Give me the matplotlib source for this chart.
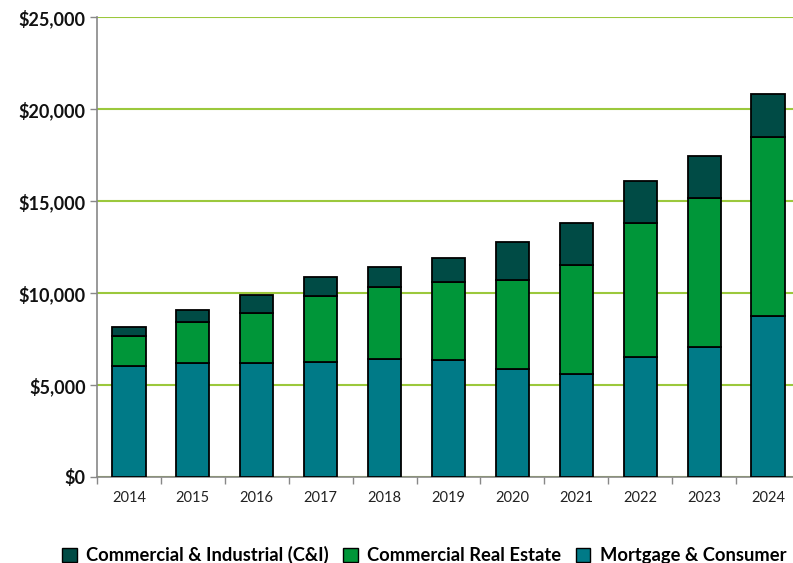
import matplotlib
matplotlib.use("Agg")
import matplotlib.pyplot as plt
from matplotlib.ticker import FuncFormatter
from matplotlib.patches import Patch

years = ["2014", "2015", "2016", "2017", "2018", "2019", "2020", "2021", "2022", "2023", "2024"]
mortgage = [6020, 6180, 6180, 6230, 6400, 6380, 5850, 5620, 6500, 7080, 8760]
cre = [1660, 2260, 2750, 3600, 3920, 4240, 4860, 5910, 7280, 8110, 9720]
cni = [450, 630, 970, 1050, 1120, 1270, 2060, 2250, 2300, 2240, 2350]

c_mort = "#007A87"
c_cre = "#009639"
c_cni = "#004B45"
c_grid = "#9BC83C"

plt.rcParams['font.family'] = ['Lato', 'DejaVu Sans']

W, H = 793, 563
fig = plt.figure(figsize=(W / 100, H / 100), dpi=100)
ax = fig.add_axes([97 / W, 1 - 477 / H, (800 - 97) / W, (477 - 17) / H])

x = list(range(len(years)))
bw = 0.52
ax.bar(x, mortgage, bw, color=c_mort, edgecolor="black", linewidth=1.3, zorder=3)
ax.bar(x, cre, bw, bottom=mortgage, color=c_cre, edgecolor="black", linewidth=1.3, zorder=3)
bot2 = [a + b for a, b in zip(mortgage, cre)]
ax.bar(x, cni, bw, bottom=bot2, color=c_cni, edgecolor="black", linewidth=1.3, zorder=3)

ax.set_xlim(-0.5, len(years) - 0.5)
ax.set_ylim(0, 25000)
ax.set_yticks(range(0, 25001, 5000))
ax.yaxis.set_major_formatter(FuncFormatter(lambda v, p: "${:,.0f}".format(v)))
ax.grid(axis="y", color=c_grid, linewidth=1.5, zorder=0)
ax.set_axisbelow(True)

ax.set_xticks(x)
ax.set_xticklabels(years, fontsize=10.5, color="#222222")
ax.set_xticks([i - 0.5 for i in range(len(years) + 1)], minor=True)
ax.tick_params(axis="x", which="major", length=0, pad=10)
ax.tick_params(axis="x", which="minor", length=5, color="#888888", width=1)
ax.tick_params(axis="y", length=5, color="#888888", width=1, pad=3)
for lab in ax.get_yticklabels():
    lab.set_fontweight("bold")
    lab.set_fontsize(13)
    lab.set_color("#111111")

for s in ["top", "right"]:
    ax.spines[s].set_visible(False)
ax.spines["left"].set_color("#888888")
ax.spines["bottom"].set_color("#888888")
ax.spines["left"].set_linewidth(1.2)
ax.spines["bottom"].set_linewidth(1.2)

handles = [
    Patch(facecolor=c_cni, edgecolor="black", label="Commercial & Industrial (C&I)"),
    Patch(facecolor=c_cre, edgecolor="black", label="Commercial Real Estate"),
    Patch(facecolor=c_mort, edgecolor="black", label="Mortgage & Consumer"),
]
fig.legend(handles=handles, loc="center", bbox_to_anchor=(424 / W, 1 - 555 / H), ncol=3,
           frameon=False, prop={"weight": "bold", "size": 13.2}, handlelength=0.8,
           handleheight=0.8, handletextpad=0.5, columnspacing=0.8, borderaxespad=0)

fig.savefig("out.png", dpi=100)
